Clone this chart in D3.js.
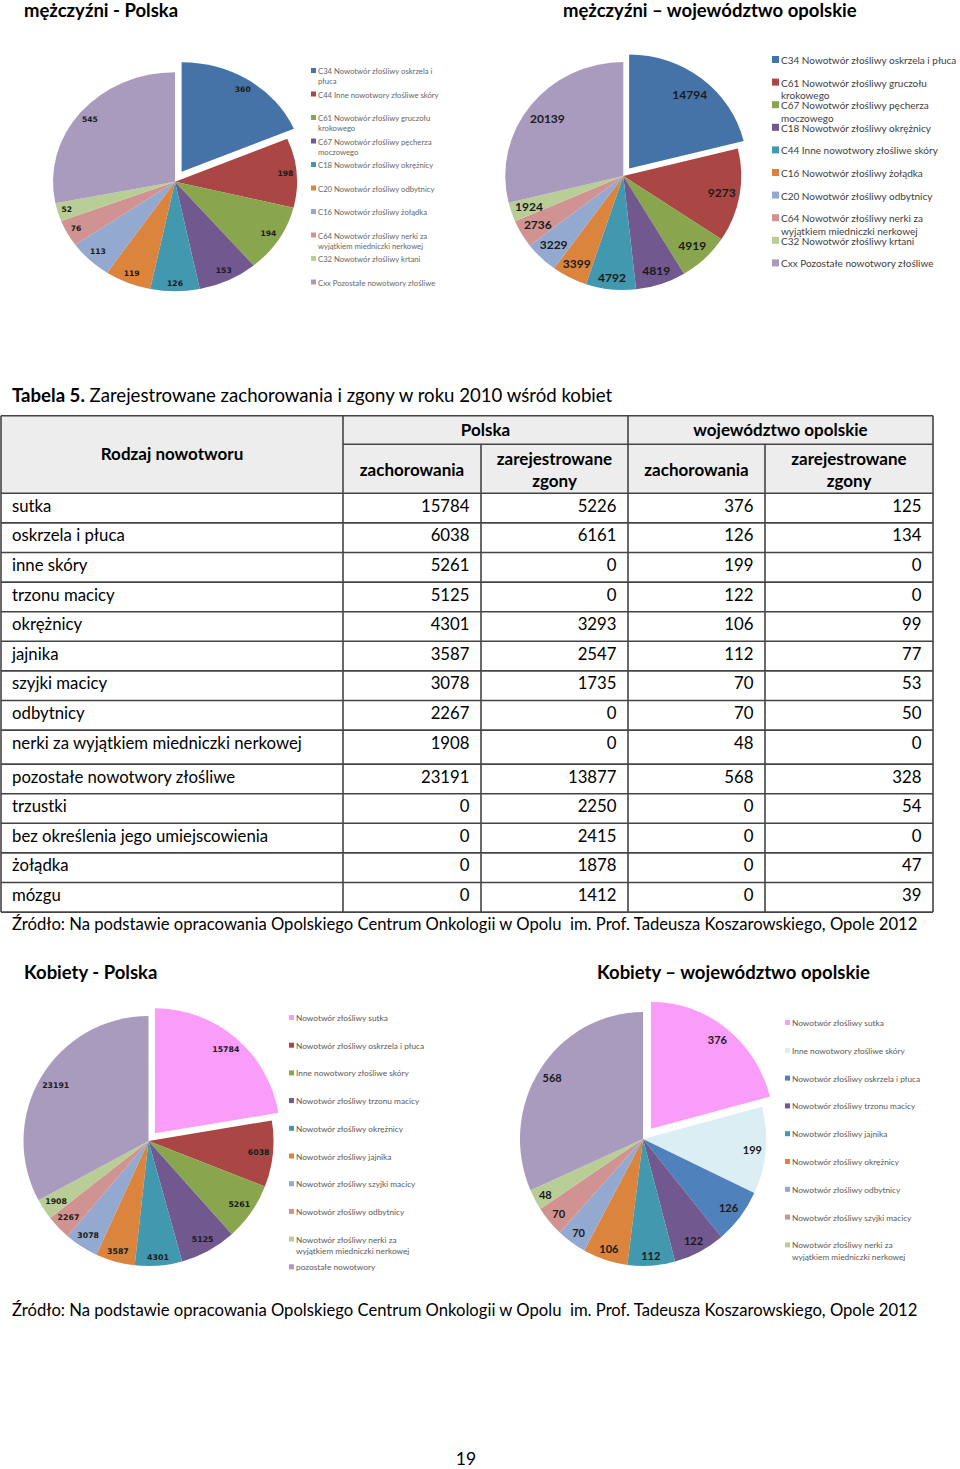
<!DOCTYPE html>
<html><head><meta charset="utf-8">
<script src="https://cdn.jsdelivr.net/npm/d3@7"></script>
<style>body{margin:0;background:#fff}svg{display:block}</style>
</head><body>
<svg id="c" width="960" height="1469"></svg>
<script>
// ---------- DATA ----------
const palette = ["#4572A7","#AA4643","#89A54E","#71588F","#4198AF","#DB843D","#93A9CF","#D19392","#B9CD96","#A99BBD"];

const menPlLabels = ["C34 Nowotwór złośliwy oskrzela i\npłuca","C44 Inne nowotwory złośliwe skóry","C61 Nowotwór złośliwy gruczołu\nkrokowego","C67 Nowotwór złośliwy pęcherza\nmoczowego","C18 Nowotwór złośliwy okrężnicy","C20 Nowotwór złośliwy odbytnicy","C16 Nowotwór złośliwy żołądka","C64 Nowotwór złośliwy nerki za\nwyjątkiem miedniczki nerkowej","C32 Nowotwór złośliwy krtani","Cxx Pozostałe nowotwory złośliwe"];
const menPlValues = [360,198,194,153,126,119,113,76,52,545];
const menPlColors = palette;

const menOpLabels = ["C34 Nowotwór złośliwy oskrzela i płuca","C61 Nowotwór złośliwy gruczołu\nkrokowego","C67 Nowotwór złośliwy pęcherza\nmoczowego","C18 Nowotwór złośliwy okrężnicy","C44 Inne nowotwory złośliwe skóry","C16 Nowotwór złośliwy żołądka","C20 Nowotwór złośliwy odbytnicy","C64 Nowotwór złośliwy nerki za\nwyjątkiem miedniczki nerkowej","C32 Nowotwór złośliwy krtani","Cxx Pozostałe nowotwory złośliwe"];
const menOpValues = [14794,9273,4919,4819,4792,3399,3229,2736,1924,20139];
const menOpColors = palette;

const womPlLabels = ["Nowotwór złośliwy sutka","Nowotwór złośliwy oskrzela i płuca","Inne nowotwory złośliwe skóry","Nowotwór złośliwy trzonu macicy","Nowotwór złośliwy okrężnicy","Nowotwór złośliwy jajnika","Nowotwór złośliwy szyjki macicy","Nowotwór złośliwy odbytnicy","Nowotwór złośliwy nerki za\nwyjątkiem miedniczki nerkowej","pozostałe nowotwory"];
const womPlValues = [15784,6038,5261,5125,4301,3587,3078,2267,1908,23191];
const womPlColors = ["#FA9CFA","#AA4643","#89A54E","#71588F","#4198AF","#DB843D","#93A9CF","#D19392","#B9CD96","#A99BBD"];

const womOpLabels = ["Nowotwór złośliwy sutka","Inne nowotwory złośliwe skóry","Nowotwór złośliwy oskrzela i płuca","Nowotwór złośliwy trzonu macicy","Nowotwór złośliwy jajnika","Nowotwór złośliwy okrężnicy","Nowotwór złośliwy odbytnicy","Nowotwór złośliwy szyjki macicy","Nowotwór złośliwy nerki za\nwyjątkiem miedniczki nerkowej","pozostałe nowotwory złośliwe"];
const womOpValues = [376,199,126,122,112,106,70,70,48,568];
const womOpColors = ["#FA9CFA","#DBEEF4","#4F81BD","#71588F","#4198AF","#DB843D","#93A9CF","#D19392","#B9CD96","#A99BBD"];

const tableRows = ["sutka","oskrzela i płuca","inne skóry","trzonu macicy","okrężnicy","jajnika","szyjki macicy","odbytnicy","nerki za wyjątkiem miedniczki nerkowej","pozostałe nowotwory złośliwe","trzustki","bez określenia jego umiejscowienia","żołądka","mózgu"];
const plZachorowania = [15784,6038,5261,5125,4301,3587,3078,2267,1908,23191,0,0,0,0];
const plZgony = [5226,6161,0,0,3293,2547,1735,0,0,13877,2250,2415,1878,1412];
const opZachorowania = [376,126,199,122,106,112,70,70,48,568,0,0,0,0];
const opZgony = [125,134,0,0,99,77,53,50,0,328,54,0,47,39];

const sourceText = "Źródło: Na podstawie opracowania Opolskiego Centrum Onkologii w Opolu  im. Prof. Tadeusza Koszarowskiego, Opole 2012";

// ---------- DRAW ----------
const svg = d3.select("#c");
const FONT = "Lato, 'Open Sans', sans-serif";

function text(x, y, s, opts={}) {
  const t = svg.append("text").attr("x", x).attr("y", y)
    .attr("font-family", opts.family || FONT)
    .attr("font-size", opts.size || 16)
    .attr("font-weight", opts.weight || "normal")
    .attr("fill", opts.fill || "#000")
    .attr("text-anchor", opts.anchor || "start")
    .style("white-space", "pre")
    .text(s);
  return t;
}

function drawPie(cfg) {
  const R = 100;
  const arcs = d3.pie().sort(null).value(d => d)(cfg.values);
  const arc = d3.arc().innerRadius(0).outerRadius(R);
  const g = svg.append("g").attr("transform", `translate(${cfg.cx},${cfg.cy})`);
  arcs.forEach((d, i) => {
    const a = (d.startAngle + d.endAngle) / 2;
    const ux = Math.sin(a), uy = -Math.cos(a);
    const off = i === 0 ? cfg.explode : 0;
    g.append("path").attr("d", arc(d)).attr("fill", cfg.colors[i])
      .attr("transform", `translate(${ux*off},${uy*off}) scale(${cfg.rx/R},${cfg.ry/R})`);
  });
  arcs.forEach((d, i) => {
    const a = (d.startAngle + d.endAngle) / 2;
    const ux = Math.sin(a), uy = -Math.cos(a);
    const off = i === 0 ? cfg.explode : 0;
    const t = g.append("text").attr("text-anchor", "middle").attr("dominant-baseline", "central")
      .attr("font-family", cfg.labelFamily).attr("font-size", cfg.labelSize)
      .attr("font-weight", cfg.labelWeight).attr("fill", "#1a1a1a").text(d.data);
    const bb = t.node().getBBox();
    const ex = ux * (cfg.rx + off), ey = uy * (cfg.ry + off);
    const dd = cfg.pad + Math.abs(ux) * bb.width / 2 + Math.abs(uy) * bb.height / 2;
    t.attr("x", ex - ux * dd).attr("y", ey - uy * dd);
  });
}

function drawLegend(cfg) {
  cfg.labels.forEach((lab, i) => {
    if (i >= cfg.count) return;
    const y = cfg.y0 + i * cfg.step;
    svg.append("rect").attr("x", cfg.x).attr("y", y - cfg.box / 2 - 0.5)
      .attr("width", cfg.box).attr("height", cfg.box).attr("fill", cfg.colors[i]);
    lab.split("\n").forEach((line, j) => {
      svg.append("text").attr("x", cfg.x + cfg.box + 2).attr("y", y + j * cfg.lh)
        .attr("dominant-baseline", "central")
        .attr("font-family", FONT).attr("font-size", cfg.size).attr("fill", cfg.fill)
        .text(line);
    });
  });
}

// headings
const HEAD = 18.5;
text(24, 17, "mężczyźni - Polska", {size: HEAD, weight: "bold"});
text(563, 17, "mężczyźni – województwo opolskie", {size: HEAD, weight: "bold"});

drawPie({cx: 175, cy: 181.7, rx: 122, ry: 109.5, explode: 12, values: menPlValues, colors: menPlColors,
  labelFamily: "DejaVu Sans", labelSize: 7.6, labelWeight: "bold", pad: 3});
drawLegend({labels: menPlLabels, colors: menPlColors, count: 10, x: 311, y0: 71, step: 23.5, lh: 10, box: 5, size: 7.7, fill: "#666"});

drawPie({cx: 623.3, cy: 176, rx: 118, ry: 114, explode: 9.5, values: menOpValues, colors: menOpColors,
  labelFamily: FONT, labelSize: 12, labelWeight: "bold", pad: 3});
drawLegend({labels: menOpLabels, colors: menOpColors, count: 10, x: 772, y0: 60, step: 22.6, lh: 12.5, box: 7, size: 10, fill: "#404040"});

// table title
const tt = svg.append("text").attr("x", 12).attr("y", 402).attr("font-family", FONT).attr("font-size", 18.6);
tt.append("tspan").attr("font-weight", "bold").text("Tabela 5.");
tt.append("tspan").text(" Zarejestrowane zachorowania i zgony w roku 2010 wśród kobiet");

// table
const colX = [1, 343, 481, 628, 765, 933];
const tableTop = 415.7, head1 = 444.3, headBottom = 493.3;
const rowH = tableRows.map((r, i) => i === 8 ? 34 : 29.6);
const rowY = [headBottom];
rowH.forEach(h => rowY.push(rowY[rowY.length - 1] + h));

svg.append("rect").attr("x", colX[0]).attr("y", tableTop).attr("width", colX[5] - colX[0])
  .attr("height", headBottom - tableTop).attr("fill", "#EDEDED");

const lineC = "#444", lineW = 1.6;
function hline(x1, x2, y) { svg.append("line").attr("x1", x1).attr("x2", x2).attr("y1", y).attr("y2", y).attr("stroke", lineC).attr("stroke-width", lineW); }
function vline(x, y1, y2) { svg.append("line").attr("x1", x).attr("x2", x).attr("y1", y1).attr("y2", y2).attr("stroke", lineC).attr("stroke-width", lineW); }

hline(colX[0], colX[5], tableTop);
hline(colX[1], colX[5], head1);
rowY.forEach(y => hline(colX[0], colX[5], y));
const tEnd = rowY[rowY.length - 1];
vline(colX[0], tableTop, tEnd);
vline(colX[1], tableTop, tEnd);
vline(colX[3], tableTop, tEnd);
vline(colX[5], tableTop, tEnd);
vline(colX[2], head1, tEnd);
vline(colX[4], head1, tEnd);

const HS = 17;
text((colX[0] + colX[1]) / 2, 460, "Rodzaj nowotworu", {size: HS, weight: "bold", anchor: "middle"});
text((colX[1] + colX[3]) / 2, 436, "Polska", {size: HS, weight: "bold", anchor: "middle"});
text((colX[3] + colX[5]) / 2, 436, "województwo opolskie", {size: HS, weight: "bold", anchor: "middle"});
[[1, 2], [3, 4]].forEach(([a, b]) => {
  text((colX[a] + colX[a + 1]) / 2, 476, "zachorowania", {size: HS, weight: "bold", anchor: "middle"});
  text((colX[b] + colX[b + 1]) / 2, 465, "zarejestrowane", {size: HS, weight: "bold", anchor: "middle"});
  text((colX[b] + colX[b + 1]) / 2, 487, "zgony", {size: HS, weight: "bold", anchor: "middle"});
});

const BS = 16.75;
const cols = [plZachorowania, plZgony, opZachorowania, opZgony];
tableRows.forEach((r, i) => {
  const by = rowY[i] + 18.5;
  text(12, by, r, {size: BS});
  cols.forEach((arr, c) => {
    text(colX[c + 2] - 11.5, by, String(arr[i]), {size: BS, anchor: "end"});
  });
});

const SS = 16.65;
text(12, 930, sourceText, {size: SS});

// women
text(24, 979, "Kobiety - Polska", {size: HEAD, weight: "bold"});
text(597, 979, "Kobiety – województwo opolskie", {size: HEAD, weight: "bold"});

drawPie({cx: 148.5, cy: 1141, rx: 125, ry: 125, explode: 10, values: womPlValues, colors: womPlColors,
  labelFamily: "DejaVu Sans", labelSize: 7.8, labelWeight: "bold", pad: 3});
drawLegend({labels: womPlLabels, colors: womPlColors, count: 10, x: 289, y0: 1018, step: 27.7, lh: 11, box: 5, size: 8.3, fill: "#5a5a5a"});

drawPie({cx: 643, cy: 1139, rx: 123, ry: 127, explode: 13, values: womOpValues, colors: womOpColors,
  labelFamily: FONT, labelSize: 11, labelWeight: "bold", pad: 3});
drawLegend({labels: womOpLabels, colors: womOpColors, count: 9, x: 785, y0: 1023, step: 27.8, lh: 11.5, box: 5, size: 8.3, fill: "#5a5a5a"});

text(12, 1316, sourceText, {size: SS});
text(466, 1465, "19", {size: 17.5, anchor: "middle"});
</script>
</body></html>
